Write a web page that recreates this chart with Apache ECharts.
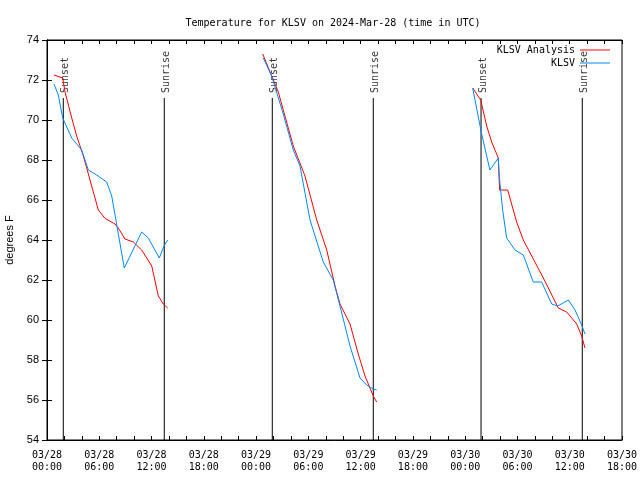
<!DOCTYPE html>
<html><head><meta charset="utf-8">
<script src="https://cdn.jsdelivr.net/npm/echarts@6/dist/echarts.min.js"></script>
<style>html,body{margin:0;padding:0;background:#fff}#c{width:640px;height:480px}</style>
</head><body><div id="c"></div>
<script>
// hours since 03/28 00:00 UTC, temperature (F)
const analysisDay28 = [[0.80,72.25],[1.80,72.1],[2.07,71.4],[2.84,70.1],[3.41,69.2],[4.17,68.2],[4.94,67.0],[5.89,65.5],[6.66,65.08],[7.81,64.8],[8.18,64.6],[8.95,64.05],[9.91,63.9],[10.87,63.5],[12.02,62.7],[12.78,61.2],[13.35,60.8],[13.85,60.6]];
const analysisDay29 = [[24.76,73.3],[26.55,71.4],[27.12,70.5],[28.27,68.7],[29.61,67.2],[30.96,65.0],[32.11,63.5],[33.06,61.7],[33.63,60.8],[34.78,59.8],[35.73,58.3],[36.50,57.2],[37.45,56.2],[37.84,55.9]];
const analysisDay30 = [[48.86,71.6],[49.78,71.0],[50.47,69.7],[51.04,68.9],[51.80,68.1],[51.95,66.5],[52.88,66.5],[53.52,65.5],[53.91,64.9],[54.67,64.0],[56.97,62.1],[58.69,60.6],[59.65,60.4],[60.80,59.8],[61.37,59.2],[61.75,58.6]];
const obsDay28 = [[0.80,71.8],[1.30,71.25],[1.80,70.1],[2.84,69.1],[3.41,68.8],[3.98,68.5],[4.74,67.5],[5.70,67.25],[6.85,66.9],[7.43,66.2],[8.87,62.6],[10.87,64.4],[11.63,64.1],[12.89,63.1],[13.43,63.7],[13.85,64.0]];
const obsDay29 = [[24.83,73.1],[25.79,72.2],[27.12,70.3],[28.27,68.5],[29.04,67.7],[30.19,65.0],[31.71,62.9],[32.86,62.0],[33.63,60.7],[34.78,58.7],[35.93,57.1],[36.70,56.75],[37.45,56.55],[37.84,56.5]];
const obsDay30 = [[48.86,71.6],[49.89,69.3],[50.84,67.5],[51.80,68.1],[51.91,67.2],[52.30,65.5],[52.76,64.1],[53.72,63.5],[54.67,63.25],[55.82,61.9],[56.78,61.9],[57.93,60.8],[58.62,60.7],[59.84,61.0],[60.61,60.5],[61.37,59.75],[61.75,59.3]];
const sunsetHours = [1.87, 25.86, 49.82];
const sunriseHours = [13.46, 37.45, 61.44];
const seriesNames = ['KLSV Analysis', 'KLSV'];
const titleText = 'Temperature for KLSV on 2024-Mar-28 (time in UTC)';

const MONO = 'DejaVu Sans Mono';
function joinSegs(segs){ const out=[]; segs.forEach((s,i)=>{ if(i>0) out.push([s[0][0]-0.01,null]); s.forEach(p=>out.push(p)); }); return out; }
function sunLines(){ const out=[]; sunsetHours.concat(sunriseHours).sort((a,b)=>a-b).forEach(h=>{ out.push([h,54]); out.push([h,71.1]); out.push([h+0.001,null]); }); return out; }
function fmtHour(v){ const d = 28 + Math.floor(v/24); const hh = v % 24; return '03/' + d + '\n' + (hh<10?'0':'') + hh + ':00'; }
const sunLabels = sunsetHours.map(h=>[h,71.35,'Sunset']).concat(sunriseHours.map(h=>[h,71.35,'Sunrise']));

const chart = echarts.init(document.getElementById('c'), null, {renderer:'canvas'});
chart.setOption({
  animation: false,
  backgroundColor: '#fff',
  title: { text: titleText, left: 328, textAlign: 'center', top: 13,
    textStyle: { fontFamily: MONO, fontSize: 10, fontWeight: 'normal', color: '#000' } },
  legend: { data: seriesNames, orient: 'vertical', right: 25, top: 39, align: 'right',
    icon: 'rect', itemWidth: 30, itemHeight: 1, itemGap: 1,
    textStyle: { fontFamily: MONO, fontSize: 10, color: '#000', lineHeight: 12 } },
  grid: { left: 47, right: 18, top: 40, bottom: 40, show: true, borderColor: '#000', borderWidth: 1,
    containLabel: false, outerBoundsMode: 'none' },
  xAxis: [
    { type: 'value', min: 0, max: 66, interval: 6, position: 'bottom',
      axisLine: { show: true, lineStyle: { color: '#000', width: 1 } },
      axisTick: { show: true, inside: true, length: 4, lineStyle: { color: '#000' } },
      minorTick: { show: true, splitNumber: 3, length: 4, lineStyle: { color: '#000' } },
      splitLine: { show: false },
      axisLabel: { formatter: fmtHour, fontFamily: MONO, fontSize: 10, color: '#000', lineHeight: 12, margin: 9 } },
    { type: 'value', min: 0, max: 66, interval: 6, position: 'top',
      axisLine: { show: true, lineStyle: { color: '#000', width: 1 } },
      axisTick: { show: true, inside: true, length: 4, lineStyle: { color: '#000' } },
      minorTick: { show: true, splitNumber: 3, length: 4, lineStyle: { color: '#000' } },
      splitLine: { show: false }, axisLabel: { show: false } }
  ],
  yAxis: [
    { type: 'value', min: 54, max: 74, interval: 2, position: 'left',
      name: 'degrees F', nameLocation: 'middle', nameGap: 31,
      nameTextStyle: { fontFamily: 'Liberation Sans', fontSize: 11, color: '#000' },
      axisLine: { show: true, lineStyle: { color: '#000', width: 1 } },
      axisTick: { show: true, inside: true, length: 5, lineStyle: { color: '#000' } },
      splitLine: { show: false },
      axisLabel: { fontFamily: 'Liberation Sans', fontSize: 11, color: '#000', margin: 8 } },
    { type: 'value', min: 54, max: 74, interval: 2, position: 'right',
      axisLine: { show: true, lineStyle: { color: '#000', width: 1 } },
      axisTick: { show: true, inside: true, length: 5, lineStyle: { color: '#000' } },
      splitLine: { show: false }, axisLabel: { show: false } }
  ],
  series: [
    { name: 'sun', type: 'line', data: sunLines(), symbol: 'none', connectNulls: false,
      lineStyle: { color: '#000', width: 1 }, silent: true, z: 1 },
    { name: 'sunLabels', type: 'scatter', data: sunLabels, symbolSize: 0, silent: true,
      label: { show: true, position: 'inside', rotate: 90, align: 'left', verticalAlign: 'middle',
        formatter: p => p.value[2], fontFamily: MONO, fontSize: 10, color: '#000', offset: [0, 2] } },
    { name: seriesNames[0], type: 'line', data: joinSegs([analysisDay28, analysisDay29, analysisDay30]),
      symbol: 'none', connectNulls: false, color: '#ff0000', lineStyle: { color: '#ff0000', width: 1 }, z: 3 },
    { name: seriesNames[1], type: 'line', data: joinSegs([obsDay28, obsDay29, obsDay30]),
      symbol: 'none', connectNulls: false, color: '#0088ff', lineStyle: { color: '#0088ff', width: 1 }, z: 4 }
  ]
});
</script></body></html>
